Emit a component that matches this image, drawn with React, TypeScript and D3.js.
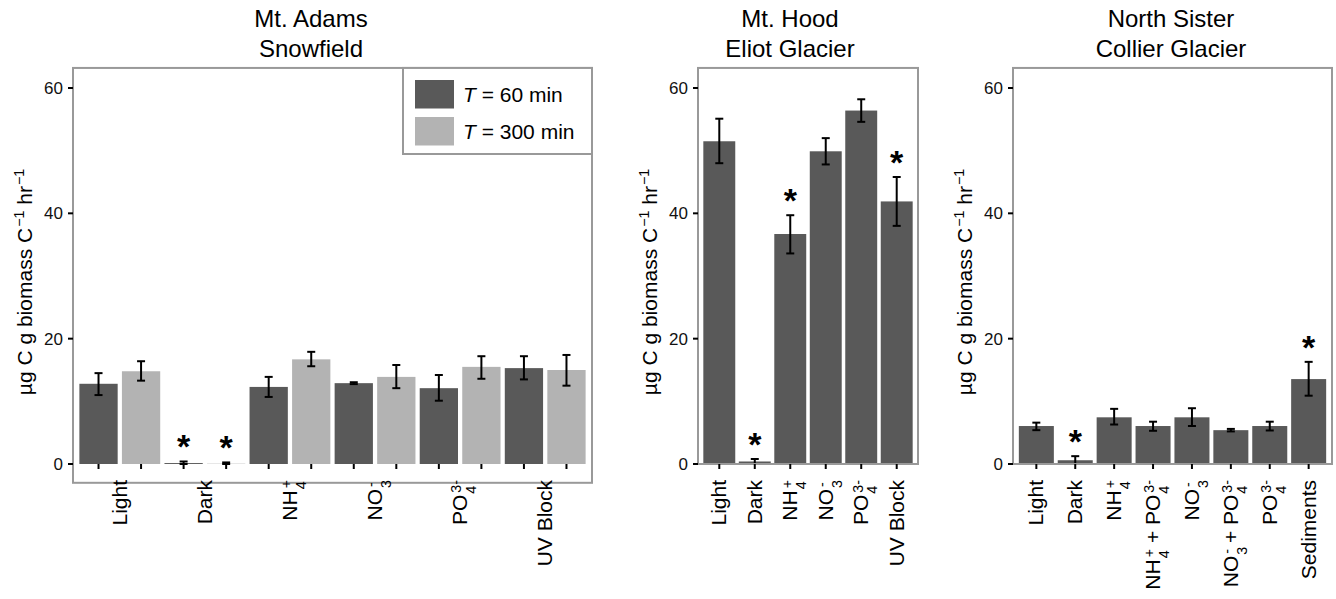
import React from "react";
import * as d3 from "d3";

// ---- data (µg C g biomass C-1 hr-1) ----
const yTicks = [0, 20, 40, 60];
const seriesNames = ["60", "300"];
const seriesColors = ["#595959", "#b3b3b3"];

const adamsCategories = ["Light", "Dark", "NH_{4}^{+}", "NO_{3}^{-}", "PO_{4}^{3-}", "UV Block"];
const adams60 = [12.8, 0.15, 12.3, 12.9, 12.1, 15.3];
const adams60Lo = [11.0, 0.0, 10.7, 12.75, 10.1, 13.5];
const adams60Hi = [14.5, 0.4, 13.9, 13.05, 14.2, 17.2];
const adams60Star = [false, true, false, false, false, false];
const adams300 = [14.8, 0.05, 16.7, 13.9, 15.5, 15.0];
const adams300Lo = [13.3, 0.0, 15.6, 12.1, 13.6, 12.5];
const adams300Hi = [16.4, 0.25, 17.9, 15.8, 17.2, 17.4];
const adams300Star = [false, true, false, false, false, false];

const hoodCategories = ["Light", "Dark", "NH_{4}^{+}", "NO_{3}^{-}", "PO_{4}^{3-}", "UV Block"];
const hood = [51.5, 0.4, 36.7, 49.9, 56.4, 41.9];
const hoodLo = [48.0, 0.0, 33.6, 47.8, 54.6, 38.0];
const hoodHi = [55.1, 0.8, 39.7, 52.0, 58.2, 45.8];
const hoodStar = [false, true, true, false, false, true];

const collierCategories = [
  "Light",
  "Dark",
  "NH_{4}^{+}",
  "NH_{4}^{+} + PO_{4}^{3-}",
  "NO_{3}^{-}",
  "NO_{3}^{-} + PO_{4}^{3-}",
  "PO_{4}^{3-}",
  "Sediments",
];
const collier = [6.06, 0.6, 7.45, 6.06, 7.45, 5.4, 6.06, 13.55];
const collierLo = [5.4, 0.0, 6.3, 5.3, 6.06, 5.2, 5.35, 10.9];
const collierHi = [6.6, 1.25, 8.8, 6.75, 8.9, 5.6, 6.75, 16.3];
const collierStar = [false, true, false, false, false, false, false, true];

// ---- layout ----
const W = 1336;
const H = 599;
const FONT = "'Liberation Sans', Arial, Helvetica, sans-serif";
const frameColor = "#999999";
const yMax = 63.2;
const y = d3.scaleLinear().domain([0, 60]).range([464, 88]);

type Seg = { t: string; k: "n" | "sub" | "sup" };

function parseLabel(s: string): Seg[] {
  const out: Seg[] = [];
  const re = /([_^])\{([^}]*)\}|([^_^]+)/g;
  let m: RegExpExecArray | null;
  while ((m = re.exec(s))) {
    if (m[3]) out.push({ t: m[3], k: "n" });
    else out.push({ t: m[2], k: m[1] === "_" ? "sub" : "sup" });
  }
  return out;
}

function Rich({ text, fs, sub = 0.43, sup = 0.27 }: { text: string; fs: number; sub?: number; sup?: number }) {
  const segs = parseLabel(text);
  const small = fs * 0.68;
  let cur = 0;
  return (
    <>
      {segs.map((s, i) => {
        const target = s.k === "sub" ? fs * sub : s.k === "sup" ? -fs * sup : 0;
        const dy = target - cur;
        cur = target;
        let dx = 0;
        if (s.k === "sup" && i > 0 && segs[i - 1].k === "sub") {
          dx = -segs[i - 1].t.length * small * 0.556 + 1;
        }
        if (s.k !== "n" && (i === 0 || segs[i - 1].k === "n")) dx += 1;
        return (
          <tspan
            key={i}
            dy={dy !== 0 ? dy : undefined}
            dx={dx !== 0 ? dx : undefined}
            fontSize={s.k === "n" ? fs : small}
          >
            {s.t}
          </tspan>
        );
      })}
    </>
  );
}

type Bar = { key: string; value: number; lo: number; hi: number; star: boolean; color: string };

type PanelProps = {
  left: number;
  right: number;
  yMin: number;
  title: string[];
  titleX: number;
  bars: Bar[];
  labels: { text: string; keys: string[] }[];
};

function Panel({ left, right, yMin, title, titleX, bars, labels }: PanelProps) {
  const x = d3
    .scaleBand()
    .domain(bars.map((b) => b.key))
    .range([left, right])
    .paddingInner(0.1)
    .paddingOuter(0.15);
  const top = y(yMax);
  const bottom = y(yMin);
  const y0 = y(0);
  const cx = (k: string) => (x(k) as number) + x.bandwidth() / 2;

  return (
    <g>
      {title.map((t, i) => (
        <text key={i} x={titleX} y={27 + i * 30} textAnchor="middle" fontSize={24} fill="#000">
          {t}
        </text>
      ))}
      {/* y axis title */}
      <text
        transform={`translate(${left - 48 + 7},282) rotate(-90)`}
        textAnchor="middle"
        fontSize={21}
        fill="#000"
      >
        <Rich text={"µg C g biomass C^{−1} hr^{−1}"} fs={21} sup={0.4} />
      </text>
      {bars.map((b) => (
        <rect
          key={b.key}
          x={x(b.key)}
          y={y(Math.max(0, b.value))}
          width={x.bandwidth()}
          height={Math.abs(y(b.value) - y0)}
          fill={b.color}
        />
      ))}
      {bars.map((b) => {
        const c = cx(b.key);
        return (
          <g key={b.key + "-e"} stroke="#000" strokeWidth={2}>
            <line x1={c} x2={c} y1={y(b.lo)} y2={y(b.hi)} />
            <line x1={c - 4} x2={c + 4} y1={y(b.lo)} y2={y(b.lo)} />
            <line x1={c - 4} x2={c + 4} y1={y(b.hi)} y2={y(b.hi)} />
          </g>
        );
      })}
      {bars
        .filter((b) => b.star)
        .map((b) => (
          <text
            key={b.key + "-s"}
            x={cx(b.key)}
            y={y(b.hi) - 22.5 + 19.5}
            textAnchor="middle"
            fontSize={34}
            fontWeight="bold"
            fill="#000"
          >
            *
          </text>
        ))}
      <rect
        x={left}
        y={top}
        width={right - left}
        height={bottom - top}
        fill="none"
        stroke={frameColor}
        strokeWidth={2}
      />
      {yTicks.map((t) => (
        <g key={t}>
          <line x1={left - 5} x2={left} y1={y(t)} y2={y(t)} stroke="#000" strokeWidth={2} />
          <text x={left - 10} y={y(t) + 6} textAnchor="end" fontSize={17} fill="#111">
            {t}
          </text>
        </g>
      ))}
      {bars.map((b) => (
        <line
          key={b.key + "-t"}
          x1={cx(b.key)}
          x2={cx(b.key)}
          y1={y0}
          y2={y0 + 5}
          stroke="#000"
          strokeWidth={2}
        />
      ))}
      {labels.map((l) => {
        const lx = d3.mean(l.keys, cx) as number;
        return (
          <text
            key={l.text}
            transform={`translate(${lx + 7},480) rotate(-90)`}
            textAnchor="end"
            fontSize={21}
            fill="#000"
            style={{ whiteSpace: "pre" }}
          >
            <Rich text={l.text} fs={21} />
          </text>
        );
      })}
    </g>
  );
}

function Legend() {
  const rows = seriesNames.map((n, i) => ({ name: n, color: seriesColors[i] }));
  const keyY = [80, 117];
  return (
    <g>
      <rect x={403} y={y(yMax)} width={189} height={154 - y(yMax)} fill="#fff" stroke={frameColor} strokeWidth={2} />
      {rows.map((r, i) => (
        <g key={r.name}>
          <rect x={415} y={keyY[i]} width={39} height={28.5} fill={r.color} />
          <text x={463} y={keyY[i] + 14 + 7.5} fontSize={21} fill="#000">
            <tspan fontStyle="italic">T</tspan>
            <tspan> = {r.name} min</tspan>
          </text>
        </g>
      ))}
    </g>
  );
}

export default function App() {
  const adamsBars: Bar[] = adamsCategories.flatMap((c, i) => [
    { key: `${i}-60`, value: adams60[i], lo: adams60Lo[i], hi: adams60Hi[i], star: adams60Star[i], color: seriesColors[0] },
    { key: `${i}-300`, value: adams300[i], lo: adams300Lo[i], hi: adams300Hi[i], star: adams300Star[i], color: seriesColors[1] },
  ]);
  const adamsLabels = adamsCategories.map((c, i) => ({ text: c, keys: [`${i}-60`, `${i}-300`] }));

  const hoodBars: Bar[] = hoodCategories.map((c, i) => ({
    key: c,
    value: hood[i],
    lo: hoodLo[i],
    hi: hoodHi[i],
    star: hoodStar[i],
    color: seriesColors[0],
  }));
  const collierBars: Bar[] = collierCategories.map((c, i) => ({
    key: c,
    value: collier[i],
    lo: collierLo[i],
    hi: collierHi[i],
    star: collierStar[i],
    color: seriesColors[0],
  }));

  return (
    <svg
      width={W}
      height={H}
      style={{ position: "absolute", left: 0, top: 0, background: "#fff" }}
      fontFamily={FONT}
    >
      <rect width={W} height={H} fill="#fff" />
      <Panel
        left={73}
        right={592}
        yMin={-3.0}
        title={["Mt. Adams", "Snowfield"]}
        titleX={311}
        bars={adamsBars}
        labels={adamsLabels}
      />
      <Legend />
      <Panel
        left={698}
        right={918}
        yMin={0}
        title={["Mt. Hood", "Eliot Glacier"]}
        titleX={790}
        bars={hoodBars}
        labels={hoodCategories.map((c) => ({ text: c, keys: [c] }))}
      />
      <Panel
        left={1013}
        right={1332}
        yMin={0}
        title={["North Sister", "Collier Glacier"]}
        titleX={1171}
        bars={collierBars}
        labels={collierCategories.map((c) => ({ text: c, keys: [c] }))}
      />
    </svg>
  );
}
